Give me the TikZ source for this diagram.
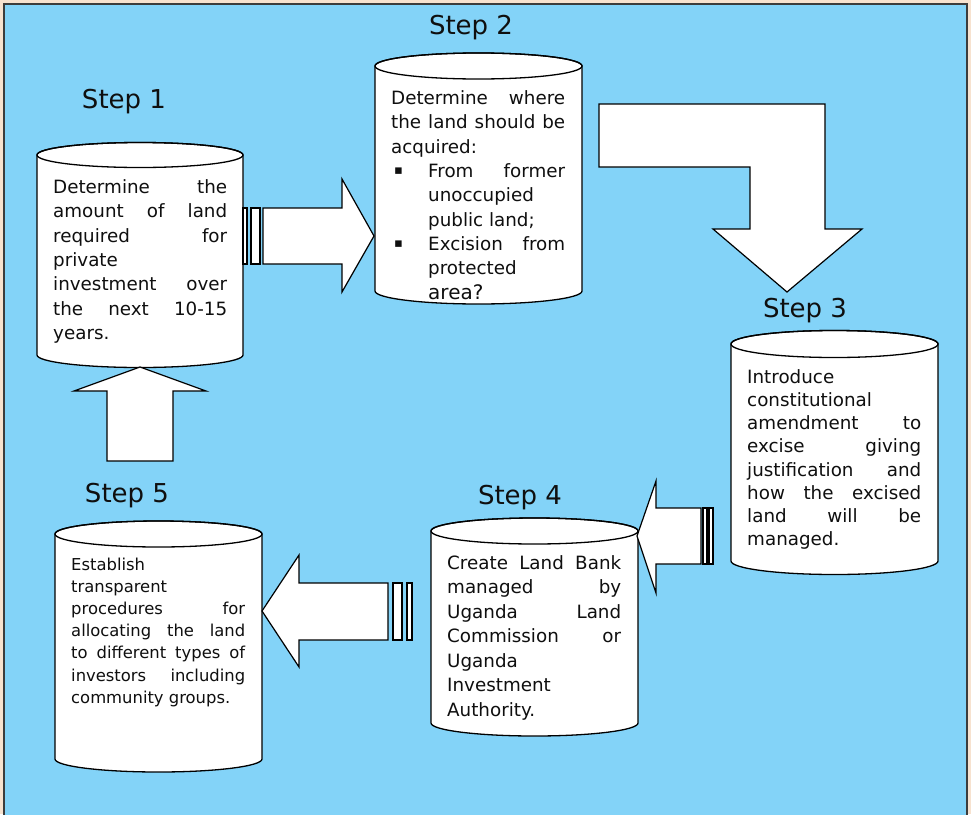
\documentclass[tikz,border=0pt]{standalone}
\usepackage{fontspec}
\setmainfont{DejaVu Sans}
\definecolor{bgblue}{RGB}{131,211,248}
\definecolor{beige}{RGB}{247,226,207}
\definecolor{framecol}{RGB}{60,60,60}
\definecolor{textcol}{RGB}{15,15,15}
\tikzset{
  cylshape/.style={fill=white,draw=black,line width=1.3pt},
  blockarrow/.style={fill=white,draw=black,line width=1.2pt,line join=miter},
  stripe/.style={fill=white,draw=black,line width=1.1pt},
  txt/.style={inner sep=0pt,text=textcol,font=\fontsize{18.3}{22}\selectfont},
  smalltxt/.style={inner sep=0pt,text=textcol,font=\fontsize{16.4}{20}\selectfont},
  bullettxt/.style={inner sep=0pt,text=textcol,font=\fontsize{13}{16}\selectfont},
  steplabel/.style={inner sep=0pt,text=textcol,font=\fontsize{26}{30}\selectfont,anchor=base}
}
\newcommand\cylinderat[6]{%
  \path[cylshape] (#2,#4) -- (#2,#5)
    arc[start angle=180,end angle=0,x radius={(#3-#2)/2},y radius=#6]
    -- (#3,#4)
    arc[start angle=0,end angle=-180,x radius={(#3-#2)/2},y radius=#6] -- cycle;
  \draw[line width=1.3pt] ({(#2+#3)/2},#4) ellipse[x radius={(#3-#2)/2},y radius=#6];
  \coordinate (#1) at ({(#2+#3)/2},{(#4+#5)/2});
}
\newcommand\jline[5][txt]{\node[#1,anchor=base west] (#2) at (#3,#4) {\makebox[174pt][s]{#5}};}
\newcommand\bjline[5][txt]{\node[#1,anchor=base west] (#2) at (#3,#4) {\makebox[137pt][s]{#5}};}
\newcommand\lline[5][txt]{\node[#1,anchor=base west] (#2) at (#3,#4) {#5};}
\begin{document}
\begin{tikzpicture}[x=1pt,y=-1pt]
\useasboundingbox (0,0) rectangle (971,814);
\fill[beige] (0,0) rectangle (971,814);
\fill[bgblue] (4,4) rectangle (967,830);
\draw[framecol,line width=1.5pt] (4,830) -- (4,4) -- (967,4) -- (967,830);

% cylinders
\cylinderat{c1}{37}{243}{155}{355}{12.5}
\cylinderat{c2}{375}{582}{66}{291}{13}
\cylinderat{c3}{731}{938}{344}{561}{13.5}
\cylinderat{c4}{431}{638}{531}{723}{13}
\cylinderat{c5}{55}{262}{534}{759}{13}

% arrow 1 (right)
\draw[stripe] (243,208) rectangle (247,264);
\draw[stripe] (251,208) rectangle (260,264);
\draw[blockarrow] (263,208) -- (342,208) -- (342,179) -- (374,236) -- (342,292) -- (342,264) -- (263,264) -- cycle;

% arrow 2 (bent)
\draw[blockarrow] (599,104) -- (825,104) -- (825,229) -- (862,229) -- (787,292) -- (713,229) -- (750,229) -- (750,167) -- (599,167) -- cycle;

% arrow 3 (left, step3 -> step4)
\draw[blockarrow] (637,536) -- (656,481) -- (656,508) -- (701,508) -- (701,564) -- (656,564) -- (656,593) -- cycle;
\draw[stripe] (703,508) rectangle (707,564);
\draw[stripe] (709,508) rectangle (713,564);

% arrow 4 (left, step4 -> step5)
\draw[blockarrow] (262,611) -- (299,555) -- (299,583) -- (388,583) -- (388,640) -- (299,640) -- (299,667) -- cycle;
\draw[stripe] (393,583) rectangle (402,640);
\draw[stripe] (407,583) rectangle (412,640);

% arrow 5 (up)
\draw[blockarrow] (140,367) -- (206,391) -- (173,391) -- (173,461) -- (107,461) -- (107,391) -- (74,391) -- cycle;

% step labels
\node[steplabel] (s1) at (124,108) {Step 1};
\node[steplabel] (s2) at (471,34) {Step 2};
\node[steplabel] (s3) at (805,317) {Step 3};
\node[steplabel] (s4) at (520,504) {Step 4};
\node[steplabel] (s5) at (127,502) {Step 5};

% cylinder 1 text
\jline{a1}{53}{193}{Determine the}
\jline{a2}{53}{217.5}{amount of land}
\jline{a3}{53}{242}{required for}
\lline{a4}{53}{266}{private}
\jline{a5}{53}{290.5}{investment over}
\jline{a6}{53}{315}{the next 10-15}
\lline{a7}{53}{339}{years.}

% cylinder 2 text
\jline{b1}{391}{104}{Determine where}
\jline{b2}{391}{128.5}{the land should be}
\lline{b3}{391}{153}{acquired:}
\lline[bullettxt]{bb1}{394}{174}{▪}
\bjline{b4}{428}{177}{From former}
\lline{b5}{428}{201.5}{unoccupied}
\lline{b6}{428}{226}{public land;}
\lline[bullettxt]{bb2}{394}{247}{▪}
\bjline{b7}{428}{250}{Excision from}
\lline{b8}{428}{274.5}{protected}
\node[inner sep=0pt,text=textcol,font=\fontsize{20}{24}\selectfont,anchor=base west] (b9) at (428,299) {area?};

% cylinder 3 text
\lline{d1}{747}{383}{Introduce}
\lline{d2}{747}{406}{constitutional}
\jline{d3}{747}{429.5}{amendment to}
\jline{d4}{747}{452.5}{excise giving}
\jline{d5}{747}{476}{justification and}
\jline{d6}{747}{499}{how the excised}
\jline{d7}{747}{522}{land will be}
\lline{d8}{747}{545.5}{managed.}

% cylinder 4 text
\jline{e1}{447}{569}{Create Land Bank}
\jline{e2}{447}{593.5}{managed by}
\jline{e3}{447}{618}{Uganda Land}
\jline{e4}{447}{642.5}{Commission or}
\lline{e5}{447}{667}{Uganda}
\lline{e6}{447}{691.5}{Investment}
\lline{e7}{447}{716}{Authority.}

% cylinder 5 text
\lline[smalltxt]{f1}{71}{570}{Establish}
\lline[smalltxt]{f2}{71}{592}{transparent}
\jline[smalltxt]{f3}{71}{614}{procedures for}
\jline[smalltxt]{f4}{71}{636}{allocating the land}
\jline[smalltxt]{f5}{71}{658}{to different types of}
\jline[smalltxt]{f6}{71}{681}{investors including}
\lline[smalltxt]{f7}{71}{703}{community groups.}
\end{tikzpicture}
\end{document}
